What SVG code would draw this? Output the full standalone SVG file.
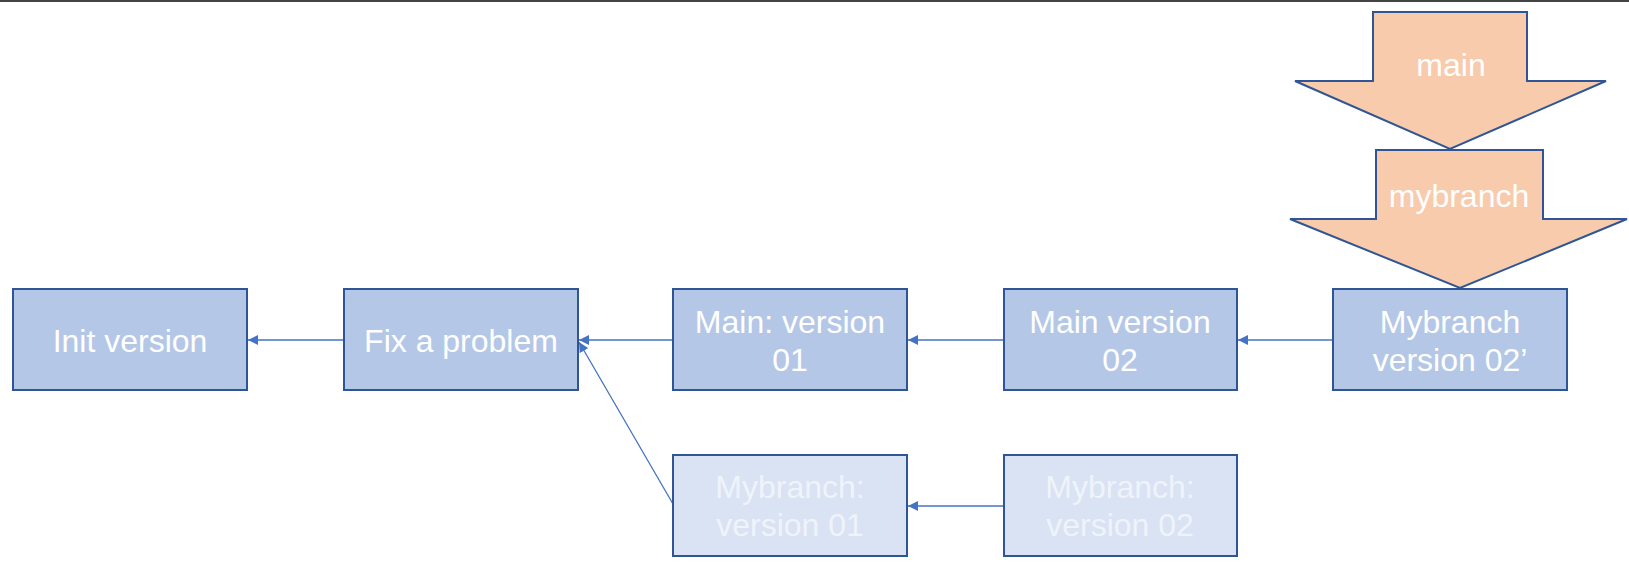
<svg xmlns="http://www.w3.org/2000/svg" width="1629" height="579" viewBox="0 0 1629 579">
<style>
.node{fill:#B4C7E7;stroke:#2F5597;stroke-width:2}
.faint{fill:#DAE3F3;stroke:#2F5597;stroke-width:2}
.ptr{fill:#F8CBAD;stroke:#2F5597;stroke-width:2;stroke-linejoin:miter}
.t{font-family:"Liberation Sans",Arial,sans-serif;font-size:32px;fill:#FFFFFF;text-anchor:middle}
.tf{font-family:"Liberation Sans",Arial,sans-serif;font-size:32px;fill:#FFFFFF;fill-opacity:0.6;text-anchor:middle}
.edge{stroke:#4472C4;stroke-width:1.3;fill:none;marker-end:url(#ah)}
</style>
<defs>
<marker id="ah" viewBox="0 0 10 10" refX="10" refY="5" markerWidth="10" markerHeight="10" markerUnits="userSpaceOnUse" orient="auto">
<path d="M0,0 L10,5 L0,10 z" fill="#4472C4"/>
</marker>
</defs>
<rect x="0" y="0" width="1629" height="579" fill="#FFFFFF"/>
<rect x="0" y="0" width="1629" height="2" fill="#444444"/>
<g id="connectors">
<line class="edge" x1="344" y1="340" x2="248" y2="340"/>
<line class="edge" x1="673" y1="340" x2="579" y2="340"/>
<line class="edge" x1="1004" y1="340" x2="908" y2="340"/>
<line class="edge" x1="1333" y1="340" x2="1238" y2="340"/>
<line class="edge" x1="673" y1="504" x2="579" y2="342"/>
<line class="edge" x1="1004" y1="506" x2="908" y2="506"/>
</g>
<g id="n-init">
<rect class="node" x="13" y="289" width="234" height="101"/>
<text class="t" x="130" y="352">Init version</text>
</g>
<g id="n-fix">
<rect class="node" x="344" y="289" width="234" height="101"/>
<text class="t" x="461" y="352">Fix a problem</text>
</g>
<g id="n-main01">
<rect class="node" x="673" y="289" width="234" height="101"/>
<text class="t" x="790" y="333">Main: version</text>
<text class="t" x="790" y="371">01</text>
</g>
<g id="n-main02">
<rect class="node" x="1004" y="289" width="233" height="101"/>
<text class="t" x="1120" y="333">Main version</text>
<text class="t" x="1120" y="371">02</text>
</g>
<g id="n-mybranch02p">
<rect class="node" x="1333" y="289" width="234" height="101"/>
<text class="t" x="1450" y="333">Mybranch</text>
<text class="t" x="1450" y="371">version 02’</text>
</g>
<g id="n-mybranch01">
<rect class="faint" x="673" y="455" width="234" height="101"/>
<text class="tf" x="790" y="498">Mybranch:</text>
<text class="tf" x="790" y="536">version 01</text>
</g>
<g id="n-mybranch02">
<rect class="faint" x="1004" y="455" width="233" height="101"/>
<text class="tf" x="1120" y="498">Mybranch:</text>
<text class="tf" x="1120" y="536">version 02</text>
</g>
<g id="p-main">
<polygon class="ptr" points="1373,12 1527,12 1527,81 1606,81 1450,149 1295,81 1373,81"/>
<text class="t" x="1451" y="76">main</text>
</g>
<g id="p-mybranch">
<polygon class="ptr" points="1376,150 1543,150 1543,219 1627,219 1460,288 1290,219 1376,219"/>
<text class="t" x="1459" y="207">mybranch</text>
</g>
</svg>
